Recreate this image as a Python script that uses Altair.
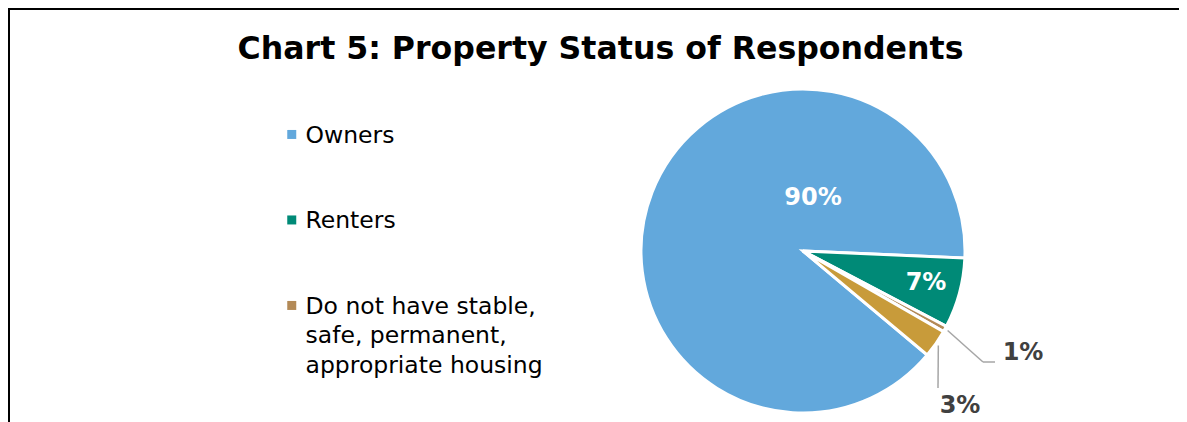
import json
import math

import altair as alt
import pandas as pd

# ---------------- data ----------------
CATEGORIES = [
    "Owners",
    "Renters",
    "Do not have stable, safe, permanent, appropriate housing",
    "Other",
]
SHARES = [89.6, 7.0, 0.6, 2.8]
LEGEND_SHOWN = CATEGORIES[:3]
WRAPPED = ["Do not have stable,", "safe, permanent,", "appropriate housing"]
TITLE = "Chart 5: Property Status of Respondents"

# ---------------- style ----------------
COLORS = ["#62A8DC", "#008A77", "#B38A57", "#C89B3A"]
SLICE_ORDER = [4, 1, 2, 3]
START_DEG = 92.5
LABEL_DX = [10, 123, 220, 157]
LABEL_DY = [-53, 32, 102, 155]
LABEL_DARK = [False, False, True, True]
LEADER = [False, False, True, True]
BEND_DX = [0, 0, 180, 135]
BEND_DY = [0, 0, 111, 137]
END_DX = [0, 0, 192, 135]
END_DY = [0, 0, 111, 137]

W, H = 1171, 414
CX, CY, R = 795, 243, 162
A0 = math.radians(START_DEG)
FONT = "DejaVu Sans"

df = pd.DataFrame({
    "cat": CATEGORIES,
    "share": SHARES,
    "ord": SLICE_ORDER,
    "ldx": LABEL_DX,
    "ldy": LABEL_DY,
    "dark": LABEL_DARK,
    "leader": LEADER,
    "bdx": BEND_DX,
    "bdy": BEND_DY,
    "edx": END_DX,
    "edy": END_DY,
})

base = alt.Chart(df)

label_expr = "datum.label == '%s' ? %s : datum.label" % (CATEGORIES[2], json.dumps(WRAPPED))

arcs = base.mark_arc(outerRadius=R, stroke="white", strokeWidth=3).encode(
    theta=alt.Theta("share:Q", stack=True,
                    scale=alt.Scale(range=[A0, A0 + 2 * math.pi])),
    order=alt.Order("ord:Q"),
    color=alt.Color(
        "cat:N",
        scale=alt.Scale(domain=CATEGORIES, range=COLORS),
        legend=alt.Legend(
            title=None,
            values=LEGEND_SHOWN,
            orient="none",
            legendX=272,
            legendY=104,
            direction="vertical",
            padding=0,
            symbolType="M-1,1.38H1V3.38H-1Z",
            symbolSize=81,
            symbolStrokeWidth=0,
            labelFont=FONT,
            labelFontSize=23.5,
            labelColor="#000000",
            labelOffset=2,
            labelBaseline="top",
            labelLimit=600,
            rowPadding=49.5,
            labelExpr=label_expr,
        ),
    ),
    x=alt.value(CX),
    y=alt.value(CY),
)

labels_base = base.transform_calculate(
    lx=f"{CX} + datum.ldx",
    ly=f"{CY} + datum.ldy",
    txt="format(datum.share, '.0f') + '%'",
)

labels_white = labels_base.transform_filter("!datum.dark").mark_text(
    font=FONT, fontWeight="bold", fontSize=24, color="white",
    align="center", baseline="middle",
).encode(
    x=alt.X("lx:Q", scale=None),
    y=alt.Y("ly:Q", scale=None),
    text="txt:N",
)

labels_dark = labels_base.transform_filter("datum.dark").mark_text(
    font=FONT, fontWeight="bold", fontSize=24, color="#404040",
    align="center", baseline="middle",
).encode(
    x=alt.X("lx:Q", scale=None),
    y=alt.Y("ly:Q", scale=None),
    text="txt:N",
)

stacked = base.transform_window(
    cum="sum(share)", sort=[alt.SortField("ord")]
).transform_joinaggregate(
    total="sum(share)"
).transform_calculate(
    mid=f"{A0} + 2 * PI * (datum.cum - datum.share / 2) / datum.total"
).transform_calculate(
    ex=f"{CX} + {R + 3} * sin(datum.mid)",
    ey=f"{CY} - {R + 3} * cos(datum.mid)",
    bx=f"{CX} + datum.bdx",
    by=f"{CY} + datum.bdy",
    tx=f"{CX} + datum.edx",
    ty=f"{CY} + datum.edy",
).transform_filter("datum.leader")

leader1 = stacked.mark_rule(color="#A6A6A6", strokeWidth=1.5).encode(
    x=alt.X("ex:Q", scale=None),
    y=alt.Y("ey:Q", scale=None),
    x2="bx:Q",
    y2="by:Q",
)
leader2 = stacked.mark_rule(color="#A6A6A6", strokeWidth=1.5).encode(
    x=alt.X("bx:Q", scale=None),
    y=alt.Y("by:Q", scale=None),
    x2="tx:Q",
    y2="ty:Q",
)

frame_df = pd.DataFrame({"k": [0]})
border_left = alt.Chart(frame_df).mark_rule(color="black", strokeWidth=2).encode(
    x=alt.value(1), y=alt.value(0), y2=alt.value(H)
)
border_top = alt.Chart(frame_df).mark_rule(color="black", strokeWidth=2).encode(
    x=alt.value(0), x2=alt.value(W), y=alt.value(1)
)

chart = alt.layer(
    border_left, border_top, arcs, leader1, leader2, labels_white, labels_dark
).properties(
    width=W,
    height=H,
    padding=0,
    autosize=alt.AutoSizeParams(type="none"),
    title=alt.Title(
        TITLE,
        font=FONT,
        fontSize=31.6,
        fontWeight="bold",
        color="black",
        anchor="middle",
        frame="group",
        offset=0,
        baseline="alphabetic",
        dy=84,
        dx=7,
    ),
).configure(
    font=FONT,
    style={"guide-label": {"lineHeight": 29.5}},
).configure_view(stroke="transparent")

chart.save("out.html", embed_options={"renderer": "svg", "actions": False})
